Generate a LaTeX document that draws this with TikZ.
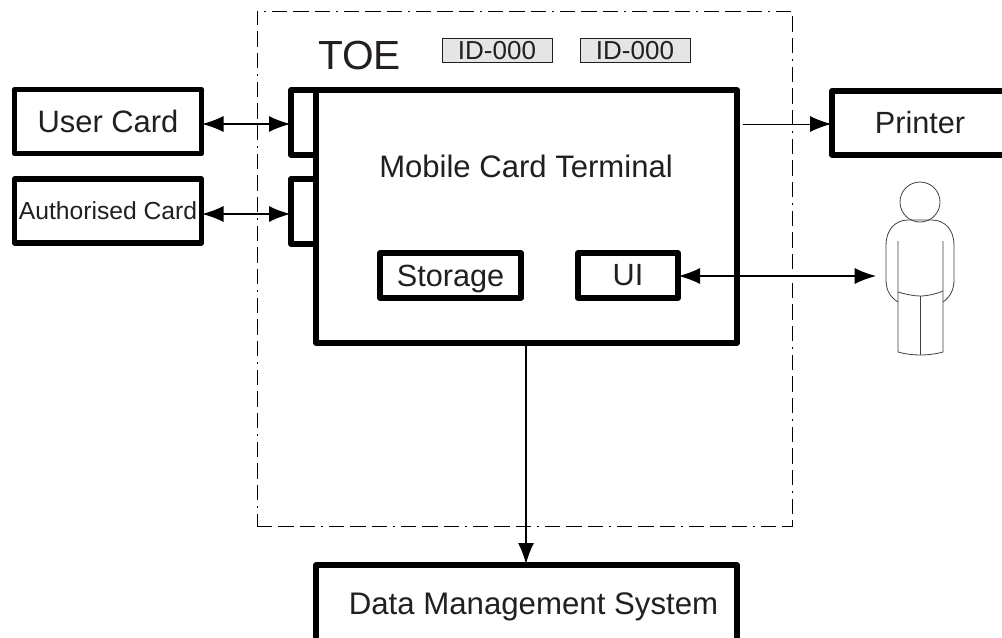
\documentclass[tikz,border=0pt]{standalone}
\usepackage{fontspec}
\setmainfont{Liberation Sans}
\usetikzlibrary{arrows.meta}
\definecolor{inkgrey}{HTML}{231F20}
\tikzset{
  box/.style 2 args={draw,line width=4pt,line join=round,fill=white,inner sep=0pt,
    minimum width=#1*.75pt,minimum height=#2*.75pt,text=inkgrey},
  tag/.style={draw=inkgrey,fill=black!10,line width=.75pt,inner sep=0pt,text=inkgrey,text depth=0pt,
    minimum width=82.5pt,minimum height=18pt,font=\fontsize{19.5}{19.5}\selectfont},
  txt/.style={inner sep=0pt,text=inkgrey,font=\fontsize{23.3}{23.3}\selectfont},
  link/.style={line width=.9pt,shorten >=-1.5pt,shorten <=-1.5pt,
    {Latex[length=16pt,width=12pt]}-{Latex[length=16pt,width=12pt]}},
  linkr/.style={line width=.9pt,shorten >=-1.5pt,-{Latex[length=16pt,width=12pt]}},
  body/.style={line width=.6pt,draw=black!75,line join=round}
}
\begin{document}
\begin{tikzpicture}[x=.75pt,y=-.75pt]
    \clip (0,0) rectangle (1002,637);
    % boundary
    \node (toe) [draw,line width=.75pt,minimum width=401.25pt,minimum height=386.25pt,inner sep=0pt,
        dash pattern=on 11.5pt off 4.5pt on 11.5pt off 4.5pt on 11.5pt off 4.5pt on 1.5pt off 4.5pt] at (524.5,268.5) {};
    \node (toelabel) [txt,font=\fontsize{30.5}{30.5}\selectfont] at (359.5,55) {TOE};
    \node (tag1) [tag] at (497,50) {ID-000};
    \node (tag2) [tag] at (635,50) {ID-000};
    % cards and ports
    \node (usercard) [box={187}{64},font=\fontsize{23.2}{23.2}\selectfont] at (108,121.5) {User Card};
    \node (authcard) [box={187}{64},font=\fontsize{18.5}{18.5}\selectfont] at (108,211) {Authorised Card};
    \node (port1) [box={25}{65}] at (303.5,122.5) {};
    \node (port2) [box={25}{65}] at (303.5,211.5) {};
    % terminal
    \node (main) [box={421}{253}] at (526.5,216.5) {};
    \node (mainlabel) [txt] at (526,166) {Mobile Card Terminal};
    \node (storage) [box={141}{45},text depth=0pt,font=\fontsize{23}{23}\selectfont] at (450.5,275.5) {Storage};
    \node (ui) [box={100}{45},font=\fontsize{23}{23}\selectfont] at (628,275.5) {UI};
    % outside
    \node (printer) [box={176}{64},font=\fontsize{23}{23}\selectfont] at (920,123) {Printer};
    \node (dms) [box={421}{120}] at (526.5,625) {};
    \node (dmslabel) [txt,font=\fontsize{23.4}{23.4}\selectfont] at (533.5,607) {Data Management System};
    % user
    \node (head) [draw,circle,body,minimum size=30pt,inner sep=0pt] at (920,202) {};
    \draw[body] (898,302) .. controls (890,297) and (886,290) .. (886,280) -- (886,245)
        .. controls (886,230) and (895,220) .. (908,220) -- (932,220)
        .. controls (945,220) and (954,230) .. (954,245) -- (954,280)
        .. controls (954,290) and (950,297) .. (943,302);
    \draw[body] (898,241) -- (898,352) .. controls (905,354) and (913,355) .. (920,355)
        .. controls (927,355) and (936,354) .. (943,352) -- (943,241);
    \draw[body] (898,292) .. controls (905,294) and (913,296) .. (920,296)
        .. controls (927,296) and (936,294) .. (943,291);
    \draw[body] (920,296) -- (920,355);
    \coordinate (person) at (874,276);
    % connectors
    \draw[link] (usercard.east |- 0,124) -- (port1.west |- 0,124);
    \draw[link] (authcard.east |- 0,214) -- (port2.west |- 0,214);
    \draw[linkr,line width=.75pt] (743,124) coordinate (mainout) -- (printer.west |- mainout);
    \draw[link] (ui.east |- person) -- (person);
    \draw[linkr,line width=1.5pt] (526,343) coordinate (mainbottom) -- (dms.north -| mainbottom);
\end{tikzpicture}
\end{document}
